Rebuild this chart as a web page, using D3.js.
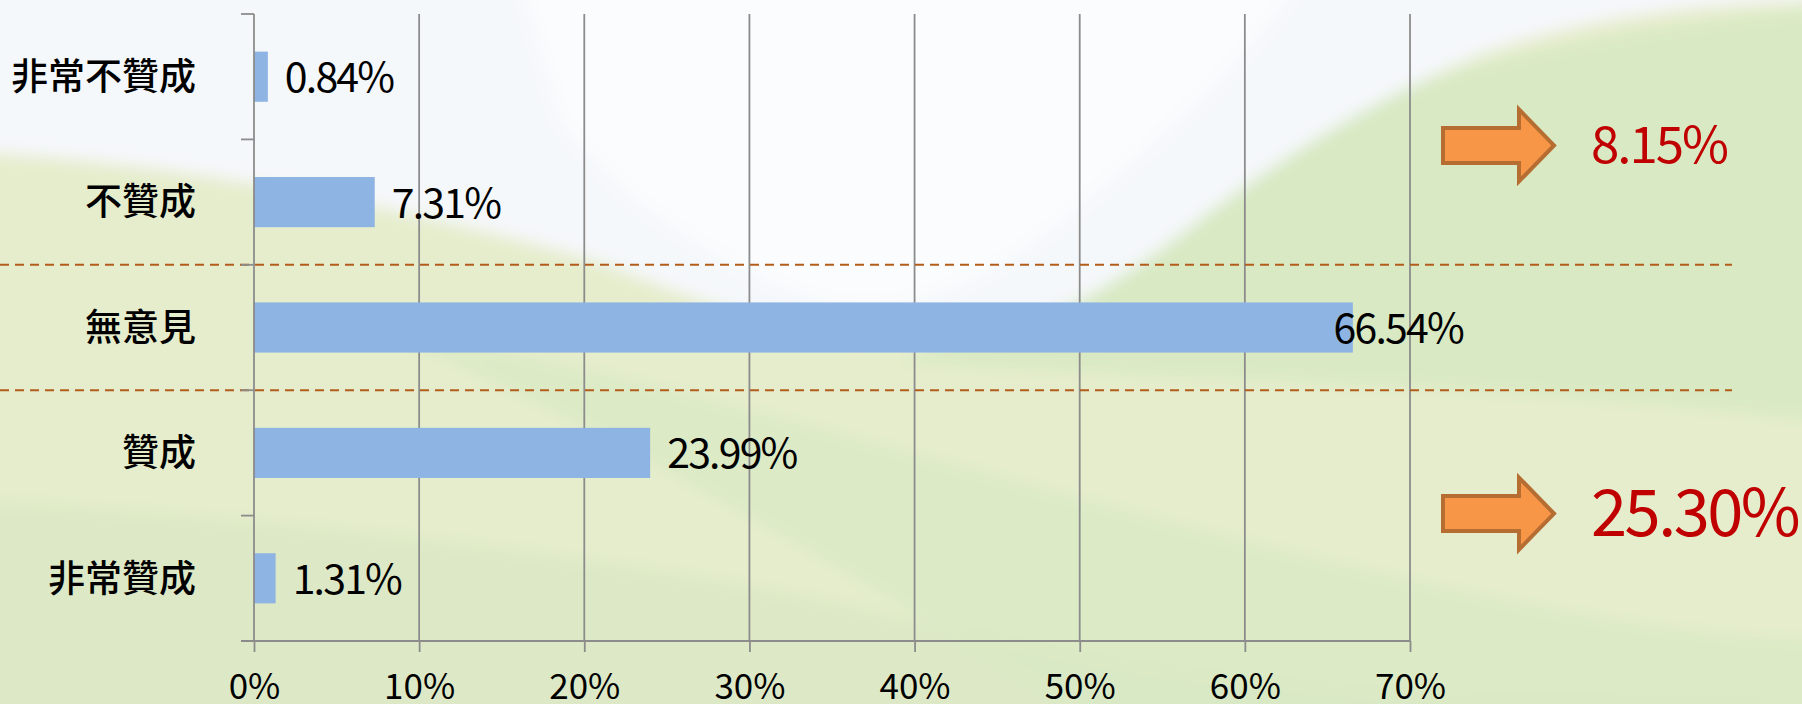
<!DOCTYPE html>
<html>
<head>
<meta charset="utf-8">
<script src="https://cdn.jsdelivr.net/npm/d3@7/dist/d3.min.js"></script>
<style>
  html, body { margin: 0; padding: 0; overflow: hidden; background: #e4edcc; }
  svg { display: block; }
</style>
</head>
<body>
<svg id="chart" width="1802" height="704"></svg>
<script>
const categories = ["非常不贊成", "不贊成", "無意見", "贊成", "非常贊成"];
const values = [0.0084, 0.0731, 0.6654, 0.2399, 0.0131];
const xTicks = [0, 0.1, 0.2, 0.3, 0.4, 0.5, 0.6, 0.7];
// groups summed on the right: [disagree side, agree side]
const groups = [["非常不贊成", "不贊成"], ["贊成", "非常贊成"]];

const svg = d3.select("#chart");
const width = 1802, height = 704;
const margin = { top: 14, left: 254, right: 392, bottom: 63 };

const fontCJK = "'Noto Sans CJK TC', 'Noto Sans', sans-serif";
const pct = d3.format(".2%");

// background: sky + soft green hills
const defs = svg.append("defs");
defs.append("filter").attr("id", "soft")
  .attr("x", "-10%").attr("y", "-10%").attr("width", "120%").attr("height", "120%")
  .append("feGaussianBlur").attr("stdDeviation", 8);

const bg = svg.append("g").attr("filter", "url(#soft)");
bg.append("rect").attr("x", -20).attr("y", -20).attr("width", width + 40).attr("height", height + 40)
  .attr("fill", "#e5edcc");
bg.append("path")
  .attr("d", "M-20,500 C300,520 700,560 1000,640 C1200,690 1500,704 1822,704 L1822,724 L-20,724 Z")
  .attr("fill", "#dde9c6");
bg.append("path")
  .attr("d", "M380,330 C700,380 1100,520 1500,600 C1650,630 1750,640 1822,640 L1822,724 L1100,724 C900,600 600,420 380,330 Z")
  .attr("fill", "#d9e8c4").attr("opacity", 0.8);
bg.append("path")
  .attr("d", "M900,360 C1050,300 1150,230 1250,160 C1350,100 1500,40 1822,10 L1822,420 C1500,380 1200,380 900,360 Z")
  .attr("fill", "#d8e9c3");
bg.append("path")
  .attr("d", "M-20,-20 L1822,-20 L1822,0 C1650,5 1520,30 1430,77 C1330,125 1250,180 1180,235 C1100,295 1030,335 940,340 C820,345 720,310 600,262 C420,210 200,165 -20,152 Z")
  .attr("fill", "#f5f8fb");
bg.append("path")
  .attr("d", "M520,-20 L1300,-20 C1250,60 1150,150 1050,230 C980,285 900,320 820,300 C720,270 620,200 560,120 Z")
  .attr("fill", "#fbfcfd").attr("opacity", 0.9);

const x = d3.scaleLinear()
  .domain([0, 0.7])
  .range([margin.left, width - margin.right]);

const y = d3.scaleBand()
  .domain(categories)
  .range([margin.top, height - margin.bottom])
  .paddingInner(0.6)
  .paddingOuter(0.3);

const yTop = margin.top, yBottom = height - margin.bottom;
const step = y.step();
const boundary = i => yTop + i * step;

// vertical gridlines
svg.append("g")
  .selectAll("line")
  .data(xTicks.slice(1))
  .enter()
  .append("line")
  .attr("x1", d => x(d)).attr("x2", d => x(d))
  .attr("y1", yTop).attr("y2", yBottom)
  .attr("stroke", "#8c8c8c").attr("stroke-width", 1.8);

// bars
svg.append("g")
  .selectAll("rect")
  .data(categories)
  .enter()
  .append("rect")
  .attr("x", x(0))
  .attr("y", d => y(d))
  .attr("width", (d, i) => x(values[i]) - x(0))
  .attr("height", y.bandwidth())
  .attr("fill", "#8eb4e3");

// dashed separators around 無意見
svg.append("g")
  .selectAll("line")
  .data([2, 3])
  .enter()
  .append("line")
  .attr("x1", 0).attr("x2", 1732)
  .attr("y1", d => boundary(d)).attr("y2", d => boundary(d))
  .attr("stroke", "#b35d1c").attr("stroke-width", 2)
  .attr("stroke-dasharray", "9,6");

// x axis
const xAxis = svg.append("g")
  .attr("transform", `translate(0,${yBottom})`)
  .call(d3.axisBottom(x).tickValues(xTicks).tickFormat(d3.format(".0%")).tickSize(11).tickSizeOuter(0).tickPadding(22));
xAxis.select(".domain").remove();
xAxis.selectAll("line").attr("stroke", "#8c8c8c").attr("stroke-width", 1.8);
xAxis.selectAll("text")
  .attr("font-family", fontCJK).attr("font-size", 35).attr("fill", "#000");

svg.append("line")
  .attr("x1", x(0) - 13).attr("x2", x(0.7))
  .attr("y1", yBottom).attr("y2", yBottom)
  .attr("stroke", "#8c8c8c").attr("stroke-width", 1.8);

// y axis line with boundary ticks
svg.append("line")
  .attr("x1", x(0)).attr("x2", x(0))
  .attr("y1", yTop).attr("y2", yBottom)
  .attr("stroke", "#8c8c8c").attr("stroke-width", 1.8);
svg.append("g")
  .selectAll("line")
  .data(d3.range(categories.length + 1))
  .enter()
  .append("line")
  .attr("x1", x(0) - 13).attr("x2", x(0))
  .attr("y1", d => boundary(d)).attr("y2", d => boundary(d))
  .attr("stroke", "#8c8c8c").attr("stroke-width", 1.8);

// category labels
svg.append("g")
  .selectAll("text")
  .data(categories)
  .enter()
  .append("text")
  .attr("x", x(0) - 58)
  .attr("y", d => y(d) + y.bandwidth() / 2)
  .attr("dy", "0.36em")
  .attr("text-anchor", "end")
  .attr("font-family", fontCJK)
  .attr("font-size", 37)
  .attr("font-weight", 500)
  .attr("fill", "#000")
  .text(d => d);

// value labels
svg.append("g")
  .selectAll("text")
  .data(categories)
  .enter()
  .append("text")
  .attr("y", d => y(d) + y.bandwidth() / 2)
  .attr("dy", "0.38em")
  .attr("font-family", fontCJK)
  .attr("font-size", 41)
  .attr("letter-spacing", -1.8)
  .attr("fill", "#000")
  .text((d, i) => pct(values[i]))
  .attr("x", function (d, i) {
    const w = this.getComputedTextLength();
    return Math.min(x(values[i]) + 17, x(0.7) + 53 - w);
  });

// arrows + group totals
const arrowPath = (x0, cy) => {
  const len = 111, shaftLen = 76, shaftH = 35, headH = 72;
  return `M${x0},${cy - shaftH / 2} L${x0 + shaftLen},${cy - shaftH / 2} L${x0 + shaftLen},${cy - headH / 2}` +
    ` L${x0 + len},${cy} L${x0 + shaftLen},${cy + headH / 2} L${x0 + shaftLen},${cy + shaftH / 2} L${x0},${cy + shaftH / 2} Z`;
};

const groupData = [
  { total: d3.sum(groups[0], c => values[categories.indexOf(c)]), cy: boundary(1) + 6, size: 51, ls: -2 },
  { total: d3.sum(groups[1], c => values[categories.indexOf(c)]), cy: boundary(4) - 2, size: 65, ls: -2.5 }
];

const ann = svg.append("g")
  .selectAll("g")
  .data(groupData)
  .enter()
  .append("g");

ann.append("path")
  .attr("d", d => arrowPath(1443, d.cy))
  .attr("fill", "#f79646")
  .attr("stroke", "#b66d31")
  .attr("stroke-width", 4)
  .attr("stroke-linejoin", "miter");

ann.append("text")
  .attr("x", 1591)
  .attr("y", d => d.cy)
  .attr("dy", "0.35em")
  .attr("font-family", fontCJK)
  .attr("font-size", d => d.size)
  .attr("letter-spacing", d => d.ls)
  .attr("fill", "#c00000")
  .text(d => pct(d.total));
</script>
</body>
</html>
